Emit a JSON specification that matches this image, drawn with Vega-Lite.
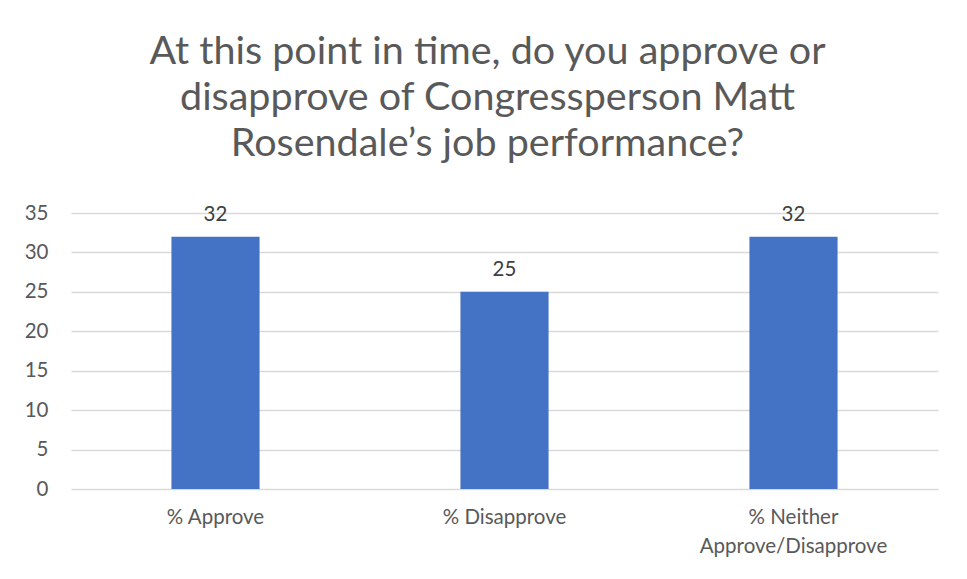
{
  "$schema": "https://vega.github.io/schema/vega-lite/v6.json",
  "width": 867,
  "height": 276,
  "autosize": "none",
  "padding": {"left": 71, "top": 213, "right": 29, "bottom": 90},
  "background": "white",
  "title": {
    "text": ["At this point in time, do you approve or", "disapprove of Congressperson Matt", "Rosendale’s job performance?"],
    "font": "Lato",
    "fontSize": 39.5,
    "fontWeight": "normal",
    "color": "#595959",
    "anchor": "middle",
    "lineHeight": 46,
    "baseline": "alphabetic",
    "offset": 8,
    "dx": -17
  },
  "data": {
    "values": [
      {"category": "% Approve", "value": 32},
      {"category": "% Disapprove", "value": 25},
      {"category": "% Neither|Approve/Disapprove", "value": 32}
    ]
  },
  "config": {
    "view": {"stroke": null},
    "axis": {"labelFont": "Lato", "labelColor": "#595959", "labelFontSize": 20.5}
  },
  "encoding": {
    "x": {
      "field": "category",
      "type": "nominal",
      "sort": null,
      "scale": {"paddingInner": 0.695, "paddingOuter": 0.3475},
      "axis": {
        "title": null,
        "labelAngle": 0,
        "ticks": false,
        "domain": false,
        "labelPadding": 18,
        "labelLineHeight": 29,
        "labelLimit": 400,
        "labelExpr": "split(datum.label, '|')"
      }
    },
    "y": {
      "field": "value",
      "type": "quantitative",
      "scale": {"domain": [0, 35], "nice": false},
      "axis": {
        "title": null,
        "values": [0, 5, 10, 15, 20, 25, 30, 35],
        "ticks": false,
        "domain": false,
        "labelPadding": 23,
        "gridColor": "#d9d9d9",
        "gridWidth": 1.5
      }
    }
  },
  "layer": [
    {"mark": {"type": "bar", "color": "#4472C4"}},
    {
      "mark": {"type": "text", "font": "Lato", "fontSize": 20.5, "color": "#404040", "baseline": "bottom", "dy": -12},
      "encoding": {"text": {"field": "value", "type": "quantitative"}}
    }
  ]
}
